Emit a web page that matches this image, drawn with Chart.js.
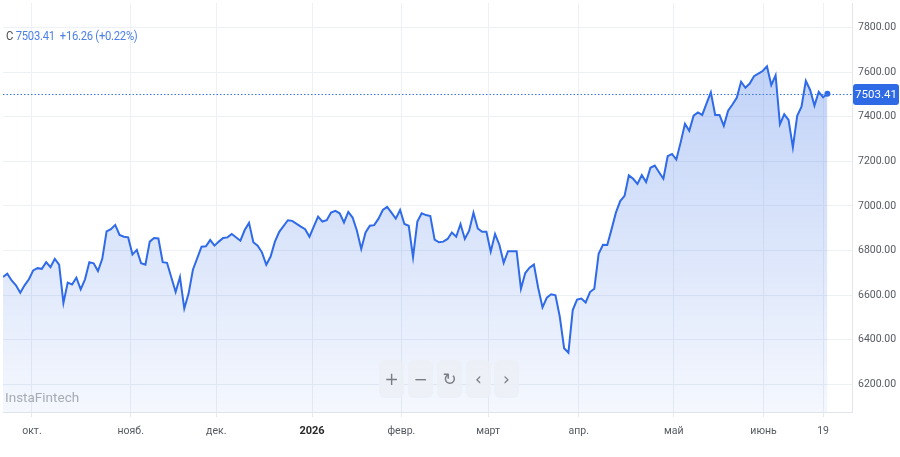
<!DOCTYPE html>
<html>
<head>
<meta charset="utf-8">
<script src="https://cdn.jsdelivr.net/npm/chart.js@4/dist/chart.umd.min.js"></script>
<style>
  html, body { margin: 0; padding: 0; background: #ffffff; }
  #wrap { position: relative; width: 900px; height: 457px; overflow: hidden; font-family: Roboto, "Noto Sans", sans-serif; }
  #c { position: absolute; left: 0; top: 0; }
  #hdr { position: absolute; left: 6px; top: 28px; font-size: 12.5px; white-space: nowrap; letter-spacing: -0.3px; transform: scaleX(0.9); transform-origin: left center; }
  #hdr .k { color: #4a4a4a; margin-right: 3px; }
  #hdr .v { color: #4d80e6; }
  #wm { position: absolute; left: 5px; top: 389px; font-size: 13.5px; color: #a7abb2; }
  .btn { position: absolute; top: 360px; width: 25px; height: 38px; background: rgba(236,239,244,0.85); border-radius: 6px; color: #7a7d83; font-size: 17px; line-height: 38px; text-align: center; font-family: "DejaVu Sans", sans-serif; }
</style>
</head>
<body>
<div id="wrap">
  <canvas id="c" width="900" height="457"></canvas>
  <div id="hdr"><span class="k">C</span><span class="v">7503.41&nbsp; +16.26 (+0.22%)</span></div>
  <div id="wm">InstaFintech</div>
  <div class="btn" style="left:379px">+</div>
  <div class="btn" style="left:408px">−</div>
  <div class="btn" style="left:437px">↻</div>
  <div class="btn" style="left:466px">‹</div>
  <div class="btn" style="left:494px">›</div>
</div>
<script>
// Daily closes, one per trading-day index (null = not read from the picture)
const closes = [
  6681, 6696, 6666, 6644, 6611, 6644, 6671, 6711, 6721, 6718,
  6748, 6725, 6763, 6737, 6565, 6656, 6648, 6678, 6626, 6671,
  6748, 6743, 6708, 6763, 6886, 6896, 6915, 6870, 6862, 6859,
  6782, 6803, 6743, 6737, 6840, 6856, 6854, 6748, 6745, null,
  6614, 6681, 6540, 6607, 6714, null, 6817, 6819, 6847, 6822,
  6840, 6856, 6859, 6874, null, 6844, 6892, 6924, 6837, 6822,
  6792, 6736, 6773, 6840, 6884, null, 6936, 6933, null, 6907,
  6896, 6862, 6907, 6952, 6930, 6936, 6970, 6978, 6967, 6926,
  6973, 6948, 6889, 6807, 6881, 6911, 6914, 6943, 6982, 6996,
  6970, 6943, 6982, 6919, 6911, 6770, 6930, 6967, 6959, 6955,
  6849, 6837, 6840, 6852, 6881, 6862, 6919, 6852, 6889, 6969,
  6899, 6884, 6884, 6795, 6874, 6826, 6745, 6797, null, 6797,
  6629, 6699, 6723, 6737, 6632, 6545, 6589, 6604, 6599, 6503,
  6362, 6342, 6533, 6580, 6585, 6567, 6614, 6629, 6785, 6826,
  6825, 6896, 6970, 7022, 7045, 7137, 7122, 7099, 7138, 7107,
  7171, 7181, 7151, 7122, 7223, 7233, 7208, 7285, 7368, 7337,
  7405, 7419, 7408, 7460, 7509, 7408, 7408, 7359, 7427, 7455,
  7485, 7557, 7530, 7549, 7582, 7593, 7605, 7626, 7542, 7586,
  7366, 7411, 7386, 7263, 7404, 7445, 7561, 7520, 7450, 7512,
  7487, 7503.41
];
// Month tick positions (trading-day index) and their labels
const tickPos    = [6.7, 29.6, 49.4, 71.6, 92.3, 112.4, 133.4, 155.4, 176.2, 190.0];
const tickLabels = ['окт.', 'нояб.', 'дек.', '2026', 'февр.', 'март', 'апр.', 'май', 'июнь', '19'];
// Price axis ticks
const yTicks = [6200, 6400, 6600, 6800, 7000, 7200, 7400, 7600, 7800];

const lastIdx = closes.length - 1;
const lastVal = closes[lastIdx];
const points = closes.map((v, i) => ({ x: i, y: v }));

const lastValuePlugin = {
  id: 'lastValue',
  afterDatasetsDraw(chart) {
    const { ctx, chartArea, scales } = chart;
    const y = Math.round(scales.y.getPixelForValue(lastVal)) + 0.5;
    ctx.save();
    ctx.strokeStyle = '#3f74e8';
    ctx.lineWidth = 1.2;
    ctx.setLineDash([1.5, 2]);
    ctx.beginPath();
    ctx.moveTo(chartArea.left, y);
    ctx.lineTo(chartArea.right, y);
    ctx.stroke();
    ctx.setLineDash([]);
    // badge
    const bx = chartArea.right + 1, bw = 46, bh = 21, by = y - 10.5;
    ctx.fillStyle = '#2f6ae6';
    ctx.beginPath();
    ctx.roundRect(bx, by, bw, bh, 3);
    ctx.fill();
    ctx.fillStyle = '#ffffff';
    ctx.font = '11.5px Roboto, "Noto Sans", sans-serif';
    ctx.textAlign = 'center';
    ctx.textBaseline = 'middle';
    ctx.fillText(lastVal.toFixed(2), bx + bw / 2, y + 0.5);
    ctx.restore();
  }
};

new Chart(document.getElementById('c'), {
  type: 'line',
  data: {
    datasets: [{
      data: points,
      parsing: false,
      spanGaps: true,
      borderColor: '#2f6ae8',
      borderWidth: 2,
      tension: 0,
      fill: 'start',
      backgroundColor(context) {
        const { ctx, chartArea } = context.chart;
        if (!chartArea) return 'rgba(50,110,235,0.15)';
        const g = ctx.createLinearGradient(0, 60, 0, chartArea.bottom);
        g.addColorStop(0, 'rgba(47,106,230,0.30)');
        g.addColorStop(1, 'rgba(47,106,230,0.05)');
        return g;
      },
      pointRadius: (c) => (c.dataIndex === lastIdx ? 3 : 0),
      pointHoverRadius: 0,
      pointBackgroundColor: '#2f6ae8',
      pointBorderWidth: 0
    }]
  },
  options: {
    responsive: false,
    devicePixelRatio: 1,
    animation: false,
    layout: { padding: 0 },
    plugins: { legend: { display: false }, tooltip: { enabled: false } },
    scales: {
      x: {
        type: 'linear',
        position: 'bottom',
        min: 0,
        max: 196.7,
        afterBuildTicks(scale) { scale.ticks = tickPos.map(v => ({ value: v })); },
        afterFit(scale) { scale.height = 45; scale.paddingLeft = 0; scale.paddingRight = 0; },
        ticks: {
          autoSkip: false,
          maxRotation: 0,
          padding: 8,
          callback(value, index) { return tickLabels[index]; },
          color: (c) => (c.tick && c.tick.label === '2026' ? '#2a2a2a' : '#555a61'),
          font: (c) => (c.tick && c.tick.label === '2026'
            ? { family: 'Roboto', size: 11, weight: 'bold' }
            : { family: 'Roboto', size: 10.5 })
        },
        grid: { color: '#edf0f4', tickLength: 5, tickColor: '#e6e9ee' },
        border: { color: '#dfe4ec', width: 1 }
      },
      y: {
        position: 'right',
        min: 6076,
        max: 7910,
        afterBuildTicks(scale) { scale.ticks = yTicks.map(v => ({ value: v })); },
        afterFit(scale) { scale.width = 48; scale.paddingTop = 0; scale.paddingBottom = 0; },
        ticks: {
          padding: 6,
          color: '#555a61',
          font: { family: 'Roboto', size: 10.5 },
          callback(value) { return Number(value).toFixed(2); }
        },
        grid: { color: '#edf0f4', drawTicks: false },
        border: { color: '#e3e6eb', width: 1 }
      }
    }
  },
  plugins: [lastValuePlugin]
});
</script>
</body>
</html>
